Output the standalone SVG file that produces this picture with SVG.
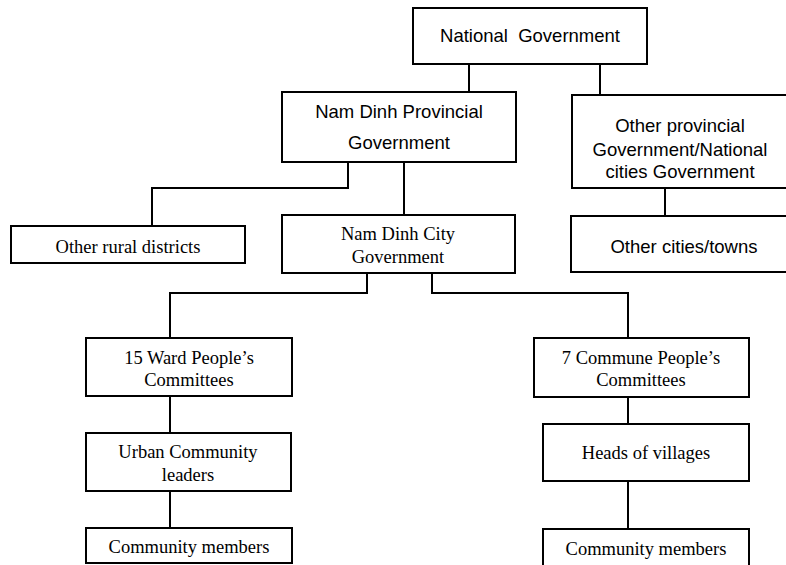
<svg xmlns="http://www.w3.org/2000/svg" width="786" height="565" viewBox="0 0 786 565">
<style>
.box{fill:#fff;stroke:#000;stroke-width:2}
.c{fill:none;stroke:#000;stroke-width:2}
.s{font-family:"Liberation Sans",Arial,sans-serif;font-size:18.5px;text-anchor:middle;fill:#000}
.r{font-family:"Liberation Serif","Times New Roman",serif;font-size:18.5px;text-anchor:middle;fill:#000}
</style>
<rect width="786" height="565" fill="#fff"/>
<g id="connectors">
<path class="c" d="M469 64V92"/>
<path class="c" d="M600 64V95"/>
<path class="c" d="M665 188V216"/>
<path class="c" d="M348 162V188H152V226"/>
<path class="c" d="M404 162V215"/>
<path class="c" d="M367 273V293H170V338"/>
<path class="c" d="M432 273V293H628V338"/>
<path class="c" d="M170 396V433"/>
<path class="c" d="M170 491V528"/>
<path class="c" d="M628 397V424"/>
<path class="c" d="M628 481V529"/>
</g>
<g id="national">
<rect class="box" x="413" y="8" width="234" height="56"/>
<text class="s" x="530" y="42" xml:space="preserve">National  Government</text>
</g>
<g id="provincial">
<rect class="box" x="282" y="92" width="234" height="70"/>
<text class="s" x="399" y="118">Nam Dinh Provincial</text>
<text class="s" x="399" y="149">Government</text>
</g>
<g id="other-provincial">
<rect class="box" x="572" y="95" width="224" height="93"/>
<text class="s" x="680" y="132">Other provincial</text>
<text class="s" x="680" y="156">Government/National</text>
<text class="s" x="680" y="178">cities Government</text>
</g>
<g id="other-cities">
<rect class="box" x="571" y="216" width="225" height="56"/>
<text class="s" x="684" y="253">Other cities/towns</text>
</g>
<g id="rural">
<rect class="box" x="11" y="226" width="234" height="37"/>
<text class="r" x="128" y="253">Other rural districts</text>
</g>
<g id="city">
<rect class="box" x="282" y="215" width="233" height="58"/>
<text class="r" x="398" y="240">Nam Dinh City</text>
<text class="r" x="398" y="263">Government</text>
</g>
<g id="ward">
<rect class="box" x="86" y="338" width="206" height="58"/>
<text class="r" x="189" y="364">15 Ward People’s</text>
<text class="r" x="189" y="386">Committees</text>
</g>
<g id="urban">
<rect class="box" x="86" y="433" width="205" height="58"/>
<text class="r" x="188" y="458">Urban Community</text>
<text class="r" x="188" y="481">leaders</text>
</g>
<g id="members-left">
<rect class="box" x="86" y="528" width="206" height="35"/>
<text class="r" x="189" y="553">Community members</text>
</g>
<g id="commune">
<rect class="box" x="534" y="338" width="215" height="59"/>
<text class="r" x="641" y="364">7 Commune People’s</text>
<text class="r" x="641" y="386">Committees</text>
</g>
<g id="villages">
<rect class="box" x="543" y="424" width="206" height="57"/>
<text class="r" x="646" y="459">Heads of villages</text>
</g>
<g id="members-right">
<rect class="box" x="543" y="529" width="206" height="44"/>
<text class="r" x="646" y="555">Community members</text>
</g>
</svg>
